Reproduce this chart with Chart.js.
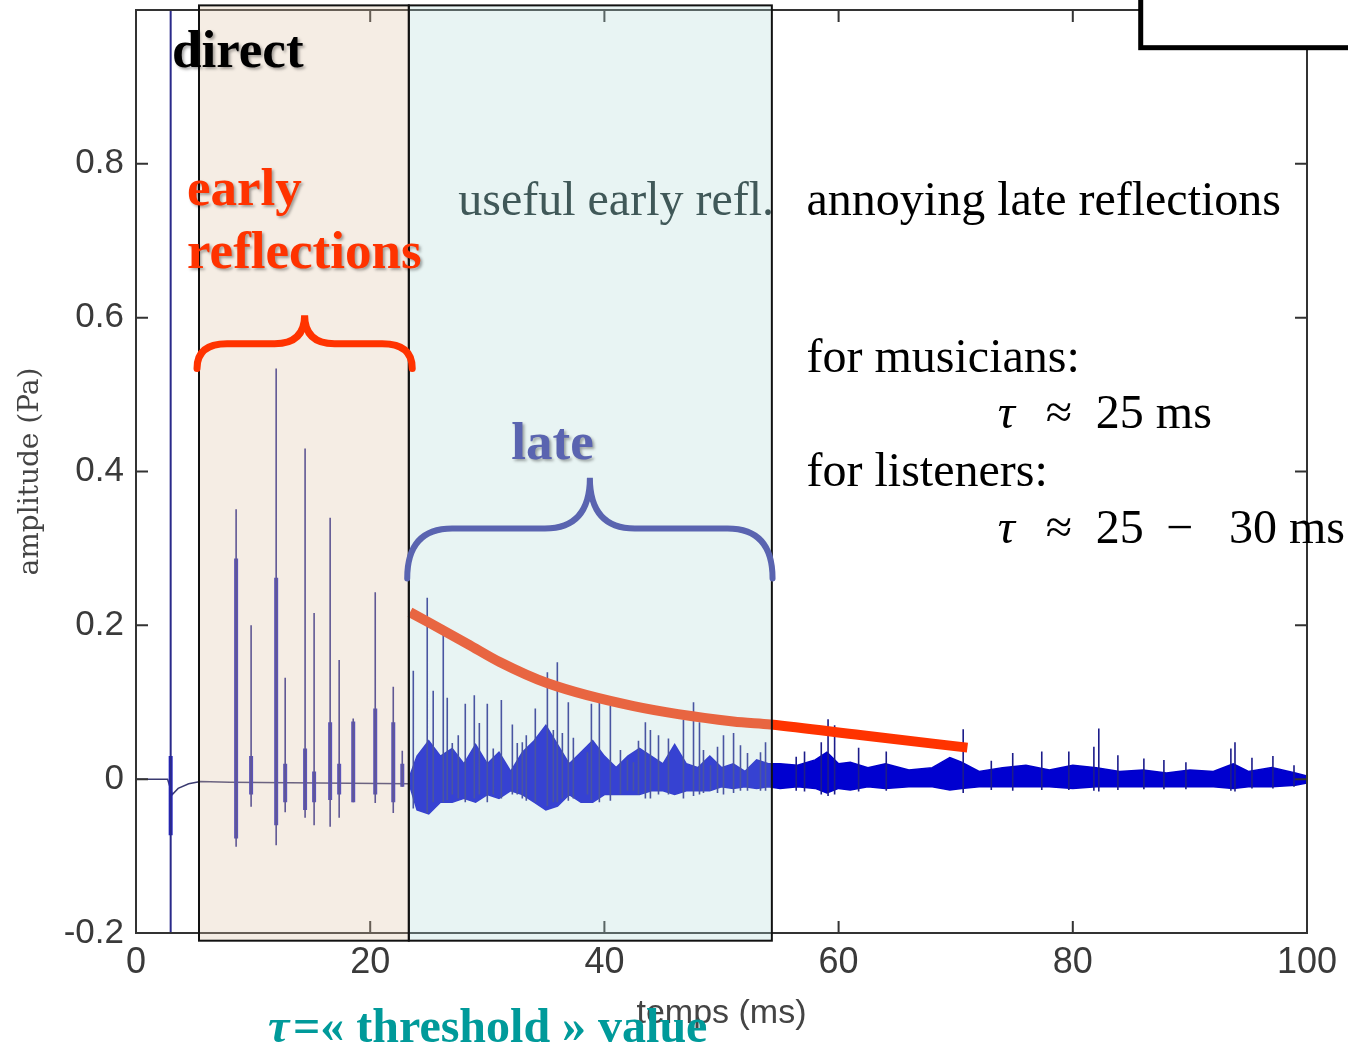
<!DOCTYPE html>
<html>
<head>
<meta charset="utf-8">
<script src="https://cdn.jsdelivr.net/npm/chart.js@4.4.1/dist/chart.umd.min.js"></script>
<style>
  html, body { margin: 0; padding: 0; background: #fff; }
  #wrap { width: 1348px; height: 1047px; }
</style>
</head>
<body>
<div id="wrap"><canvas id="impulse" width="1348" height="1047"></canvas></div>
<script>
// Impulse response of a hall: amplitude (Pa) vs time (ms).

// direct sound (clipped at both ends of the y range)
const directTime = [2.96];
const directRange = [-0.2, 1.0];

// early reflections (single spikes)
const earlyT      = [8.55, 9.83, 11.97, 12.74, 14.44, 15.21, 16.58, 17.35, 18.55, 20.43, 21.97, 22.74];
const earlyTop    = [0.351, 0.2, 0.534, 0.132, 0.43, 0.216, 0.34, 0.155, 0.079, 0.243, 0.12, 0.037];
const earlyBottom = [-0.088, -0.036, -0.086, -0.043, -0.05, -0.06, -0.062, -0.05, -0.03, -0.031, -0.044, -0.01];

// thicker bursts around the direct sound and each early reflection
const burstT      = [2.96, 8.55, 9.83, 11.97, 12.74, 14.44, 15.21, 16.58, 17.35, 18.55, 20.43, 21.97, 22.74];
const burstTop    = [0.03, 0.287, 0.03, 0.262, 0.02, 0.04, 0.01, 0.074, 0.02, 0.075, 0.092, 0.074, 0.02];
const burstBottom = [-0.073, -0.077, -0.02, -0.06, -0.03, -0.04, -0.03, -0.027, -0.02, -0.03, -0.02, -0.03, -0.01];

// quiet line between the reflections
const baseT = [0, 2.7, 3.1, 3.6, 4.5, 5.5, 8, 23.4];
const baseV = [0, 0, -0.02, -0.012, -0.006, -0.003, -0.004, -0.006];

// late reflections (spikes)
const lateT = [23.68, 24.87, 25.38, 26.24, 26.58, 27.01, 27.52, 28.12, 28.89, 29.32,
               30.0, 30.51, 31.2, 32.14, 32.56, 32.99, 33.33, 34.1, 35.13, 35.64,
               35.98, 36.41, 36.92, 37.35, 38.55, 38.89, 39.57, 40.51, 41.37, 41.97,
               42.48, 42.91, 43.5, 43.93, 44.62, 45.47, 46.75, 47.61, 48.12, 48.46,
               49.06, 49.66, 50.17, 51.03, 51.62, 52.22, 53.33, 53.76,
               56.38, 57.09, 58.52, 59.1, 59.66, 61.71, 64.07, 70.64, 73.04, 74.87,
               77.35, 79.66, 81.8, 82.22, 83.85, 86.07, 87.78, 89.66, 93.5, 93.85,
               95.3, 97.09, 98.89];
const lateTop = [0.141, 0.236, 0.115, 0.2, 0.106, 0.047, 0.057, 0.098, 0.109, 0.073,
                 0.098, 0.04, 0.103, 0.071, 0.047, 0.048, 0.057, 0.092, 0.139, 0.064,
                 0.152, 0.06, 0.1, 0.054, 0.035, 0.098, 0.102, 0.095, 0.038, 0.025,
                 0.022, 0.05, 0.074, 0.064, 0.057, 0.053, 0.077, 0.1, 0.074, 0.038,
                 0.018, 0.042, 0.057, 0.06, 0.044, 0.034, 0.035, 0.048,
                 0.029, 0.036, 0.048, 0.078, 0.07, 0.041, 0.036, 0.065, 0.024, 0.034,
                 0.036, 0.036, 0.042, 0.066, 0.031, 0.027, 0.025, 0.022, 0.04, 0.048,
                 0.028, 0.03, 0.018];
const lateBottom = [-0.038, -0.044, -0.03, -0.03, -0.027, -0.02, -0.025, -0.03, -0.025, -0.02,
                    -0.03, -0.02, -0.025, -0.02, -0.02, -0.025, -0.028, -0.03, -0.035, -0.03,
                    -0.03, -0.025, -0.028, -0.025, -0.02, -0.027, -0.03, -0.028, -0.02, -0.015,
                    -0.015, -0.02, -0.025, -0.025, -0.02, -0.02, -0.025, -0.022, -0.02, -0.018,
                    -0.015, -0.018, -0.02, -0.018, -0.015, -0.015, -0.015, -0.015,
                    -0.015, -0.016, -0.02, -0.022, -0.02, -0.016, -0.015, -0.018, -0.014, -0.015,
                    -0.014, -0.014, -0.015, -0.016, -0.014, -0.013, -0.013, -0.013, -0.015, -0.016,
                    -0.012, -0.012, -0.01];

// dense reverberant tail: upper / lower envelope of the blue mass
const noiseT = [23.4, 24, 25, 26, 27, 28, 29, 30, 31, 32,
                33, 34, 35, 36, 37, 38, 39, 40, 41, 42,
                43, 44, 45, 46, 47, 48, 49, 50, 51, 52,
                53, 54, 55, 56.5, 58, 59, 60, 61, 62.5, 64,
                66, 68, 69.5, 70.5, 72, 74, 76, 78, 80, 82,
                84, 86, 88, 90, 92, 93.7, 95, 97, 99, 100];
const noiseHi = [0.005, 0.03, 0.05, 0.03, 0.04, 0.02, 0.045, 0.02, 0.035, 0.01,
                 0.035, 0.05, 0.07, 0.045, 0.02, 0.035, 0.05, 0.03, 0.015, 0.03,
                 0.04, 0.03, 0.02, 0.045, 0.02, 0.015, 0.03, 0.015, 0.02, 0.01,
                 0.025, 0.02, 0.02, 0.018, 0.025, 0.035, 0.02, 0.022, 0.015, 0.02,
                 0.012, 0.015, 0.028, 0.022, 0.01, 0.015, 0.018, 0.012, 0.018, 0.015,
                 0.01, 0.012, 0.008, 0.012, 0.01, 0.02, 0.01, 0.015, 0.008, 0.004];
const noiseLo = [-0.01, -0.04, -0.045, -0.03, -0.03, -0.025, -0.03, -0.02, -0.025, -0.015,
                 -0.02, -0.03, -0.04, -0.035, -0.02, -0.03, -0.03, -0.02, -0.02, -0.02,
                 -0.02, -0.015, -0.015, -0.02, -0.015, -0.015, -0.015, -0.01, -0.012, -0.01,
                 -0.012, -0.01, -0.012, -0.01, -0.012, -0.018, -0.012, -0.014, -0.01, -0.012,
                 -0.01, -0.01, -0.014, -0.012, -0.01, -0.01, -0.01, -0.01, -0.012, -0.01,
                 -0.01, -0.01, -0.01, -0.01, -0.01, -0.012, -0.01, -0.01, -0.008, -0.005];

// hand-drawn decay curve (red)
const decayT = [23.4, 28.3, 31.1, 35.1, 42.5, 51.0, 54.2, 62.0, 71.0];
const decayV = [0.217, 0.176, 0.152, 0.125, 0.095, 0.075, 0.071, 0.057, 0.041];

// shaded time windows (ms)
const earlySpan = [5.38, 23.3];
const lateSpan = [23.3, 54.3];

const xTicks = [0, 20, 40, 60, 80, 100];

// vertical segments, separated by gaps
function segments(ts, tops, bottoms) {
  const out = [];
  ts.forEach((t, i) => {
    out.push({x: t, y: tops[i]}, {x: t, y: bottoms[i]}, {x: t, y: null});
  });
  return out;
}
const pairs = (ts, vs) => ts.map((t, i) => ({x: t, y: vs[i]}));

const serif = "'Liberation Serif', 'Times New Roman', serif";

function brace(ctx, x0, x1, yEnd, yMid, yTip, r) {
  const xm = (x0 + x1) / 2;
  ctx.beginPath();
  ctx.moveTo(x0, yEnd);
  ctx.quadraticCurveTo(x0, yMid, x0 + r, yMid);
  ctx.lineTo(xm - r, yMid);
  ctx.quadraticCurveTo(xm, yMid, xm, yTip);
  ctx.quadraticCurveTo(xm, yMid, xm + r, yMid);
  ctx.lineTo(x1 - r, yMid);
  ctx.quadraticCurveTo(x1, yMid, x1, yEnd);
  ctx.stroke();
}

const overlay = {
  id: 'overlay',
  afterDatasetsDraw(chart) {
    const {ctx, chartArea: a, scales: {x, y}} = chart;
    ctx.save();
    // Matlab style box with inward ticks
    ctx.strokeStyle = '#333';
    ctx.lineWidth = 2;
    ctx.strokeRect(a.left, a.top, a.right - a.left, a.bottom - a.top);
    ctx.beginPath();
    x.ticks.forEach(t => {
      const px = x.getPixelForValue(t.value);
      if (px <= a.left + 1 || px >= a.right - 1) return;
      ctx.moveTo(px, a.bottom); ctx.lineTo(px, a.bottom - 12);
      ctx.moveTo(px, a.top); ctx.lineTo(px, a.top + 12);
    });
    y.ticks.forEach(t => {
      const py = y.getPixelForValue(t.value);
      if (py <= a.top + 1 || py >= a.bottom - 1) return;
      ctx.moveTo(a.left, py); ctx.lineTo(a.left + 12, py);
      ctx.moveTo(a.right, py); ctx.lineTo(a.right - 12, py);
    });
    ctx.stroke();

    // translucent windows laid over the trace
    const top = y.getPixelForValue(1.006), bot = y.getPixelForValue(-0.21);
    const win = (span, fill) => {
      const l = x.getPixelForValue(span[0]), r = x.getPixelForValue(span[1]);
      ctx.fillStyle = fill;
      ctx.fillRect(l, top, r - l, bot - top);
      ctx.strokeStyle = '#111';
      ctx.lineWidth = 2;
      ctx.strokeRect(l, top, r - l, bot - top);
    };
    win(earlySpan, 'rgba(222,195,165,0.3)');
    win(lateSpan, 'rgba(178,218,215,0.3)');
    ctx.restore();
  },
  afterDraw(chart) {
    const {ctx, scales: {x, y}} = chart;
    const X = v => x.getPixelForValue(v), Y = v => y.getPixelForValue(v);
    ctx.save();
    ctx.textBaseline = 'alphabetic';
    ctx.textAlign = 'left';

    // braces
    ctx.lineCap = 'round';
    ctx.strokeStyle = '#ff3300';
    ctx.lineWidth = 7;
    brace(ctx, X(5.21), X(23.59), Y(0.534), Y(0.566), Y(0.603), 30);
    ctx.strokeStyle = '#5a64b0';
    ctx.lineWidth = 6;
    brace(ctx, X(23.16), X(54.36), Y(0.261), Y(0.326), Y(0.392), 45);

    // shadowed bold labels
    ctx.shadowColor = 'rgba(0,0,0,0.35)';
    ctx.shadowOffsetX = 2; ctx.shadowOffsetY = 2; ctx.shadowBlur = 3;
    ctx.font = 'bold 53px ' + serif;
    ctx.fillStyle = '#000';
    ctx.fillText('direct', X(3.08), Y(0.926));
    ctx.fillStyle = '#ff3300';
    ctx.fillText('early', X(4.36), Y(0.747));
    ctx.fillText('reflections', X(4.36), Y(0.665));
    ctx.fillStyle = '#5a64b0';
    ctx.fillText('late', X(32.05), Y(0.416));
    ctx.shadowColor = 'transparent';

    ctx.font = '48px ' + serif;
    ctx.fillStyle = '#405858';
    ctx.fillText('useful early refl.', X(27.52), Y(0.734));
    ctx.fillStyle = '#000';
    ctx.fillText('annoying late reflections', X(57.26), Y(0.734));
    ctx.fillText('for musicians:', X(57.26), Y(0.530));
    ctx.fillText('for listeners:', X(57.26), Y(0.381));
    ctx.fillText('\u2248', X(77.69), Y(0.4565));
    ctx.fillText('25 ms', X(81.97), Y(0.4565));
    ctx.fillText('\u2248', X(77.69), Y(0.307));
    ctx.fillText('25', X(81.97), Y(0.307));
    ctx.fillText('\u2212', X(87.95), Y(0.307));
    ctx.fillText('30 ms', X(93.33), Y(0.307));
    ctx.font = 'italic 48px ' + serif;
    ctx.fillText('\u03c4', X(73.59), Y(0.4565));
    ctx.fillText('\u03c4', X(73.59), Y(0.307));

    // threshold caption under the axis
    ctx.fillStyle = '#009a9a';
    ctx.font = 'italic bold 48px ' + serif;
    ctx.fillText('\u03c4', X(11.28), Y(-0.342));
    ctx.font = 'bold 48px ' + serif;
    ctx.fillText('=\u00ab threshold \u00bb value', X(13.4), Y(-0.342));

    // pasted frame in the top right corner
    const l = X(85.8), b = Y(0.951);
    ctx.fillStyle = '#fff';
    ctx.fillRect(l, -20, 400, b + 20);
    ctx.strokeStyle = '#000';
    ctx.lineWidth = 5;
    ctx.strokeRect(l, -20, 400, b + 20);
    ctx.restore();
  }
};

const datasets = [
  {
    label: 'decay', data: pairs(decayT, decayV),
    borderColor: '#ff3300', borderWidth: 10, tension: 0.4,
    cubicInterpolationMode: 'monotone', pointRadius: 0, borderCapStyle: 'butt'
  },
  {
    label: 'direct', data: segments(directTime, [directRange[1]], [directRange[0]]),
    borderColor: '#2a2a8a', borderWidth: 2, pointRadius: 0, spanGaps: false
  },
  {
    label: 'early', data: segments(earlyT, earlyTop, earlyBottom),
    borderColor: '#2a2a8c', borderWidth: 1.6, pointRadius: 0, spanGaps: false
  },
  {
    label: 'late', data: segments(lateT, lateTop, lateBottom),
    borderColor: '#1c1c8a', borderWidth: 1.6, pointRadius: 0, spanGaps: false
  },
  {
    label: 'bursts', data: segments(burstT, burstTop, burstBottom),
    borderColor: '#2424c0', borderWidth: 4, pointRadius: 0, spanGaps: false
  },
  {
    label: 'tail hi', data: pairs(noiseT, noiseHi),
    borderColor: '#0000c8', backgroundColor: '#0000d0', borderWidth: 1.5,
    pointRadius: 0, fill: '+1'
  },
  {
    label: 'tail lo', data: pairs(noiseT, noiseLo),
    borderColor: '#0000c8', borderWidth: 1.5, pointRadius: 0, fill: false
  },
  {
    label: 'baseline', data: pairs(baseT, baseV),
    borderColor: '#3a3a70', borderWidth: 1.5, pointRadius: 0, fill: false
  }
];

Chart.defaults.font.family = "'Liberation Sans', Arial, sans-serif";

new Chart(document.getElementById('impulse'), {
  type: 'line',
  data: {datasets},
  options: {
    responsive: false,
    animation: false,
    devicePixelRatio: 1,
    layout: {padding: {top: 10, right: 41, left: 0, bottom: 0}},
    plugins: {legend: {display: false}, tooltip: {enabled: false}},
    scales: {
      x: {
        type: 'linear', min: 0, max: 100, offset: false,
        afterBuildTicks: s => { s.ticks = xTicks.map(v => ({value: v})); },
        afterFit: s => { s.height = 114; s.paddingLeft = 0; s.paddingRight = 0; },
        grid: {display: false, drawTicks: false},
        border: {display: false},
        ticks: {
          color: '#3a3a3a', padding: 8, maxRotation: 0,
          font: {size: 36, family: "'Liberation Sans', sans-serif"}
        },
        title: {
          display: true, text: 'temps (ms)', color: '#444',
          font: {size: 34, family: "'Liberation Sans', sans-serif"},
          padding: {top: 0, bottom: 13}
        }
      },
      y: {
        min: -0.2, max: 1.0,
        afterFit: s => { s.width = 136; s.paddingTop = 0; s.paddingBottom = 0; },
        grid: {display: false, drawTicks: false},
        border: {display: false},
        ticks: {
          stepSize: 0.2, color: '#3a3a3a', padding: 12,
          font: {size: 35, family: "'Liberation Sans', sans-serif"},
          callback: v => (v > 0.95 ? '' : (Math.abs(v) < 1e-9 ? '0' : v.toFixed(1)))
        },
        title: {
          display: true, text: 'amplitude (Pa)', color: '#444',
          font: {size: 28, family: "'DejaVu Serif', serif"},
          padding: {top: 14, bottom: 0}
        }
      }
    }
  },
  plugins: [overlay]
});
</script>
</body>
</html>
